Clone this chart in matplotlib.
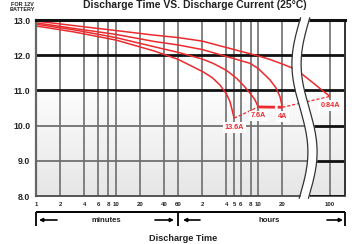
import numpy as np
import matplotlib
matplotlib.use("Agg")
import matplotlib.pyplot as plt
import matplotlib.font_manager as fm
from matplotlib.colors import LinearSegmentedColormap

# ---------------- data (x in minutes, y in volts) ----------------
currents = ["0.84A", "4A", "7.6A", "13.6A"]

t_084 = [1, 3, 10, 30, 60, 120, 300, 600, 840, 1200, 1800, 2280, 3000, 3900, 4740, 6000]
v_084 = [12.97, 12.84, 12.70, 12.57, 12.50, 12.40, 12.16, 11.98, 11.88, 11.75, 11.59, 11.47, 11.33, 11.17, 11.01, 10.83]

t_4 = [1, 3, 10, 30, 60, 120, 300, 473, 600, 840, 1000, 1122, 1200]
v_4 = [12.92, 12.76, 12.59, 12.39, 12.29, 12.16, 11.90, 11.77, 11.62, 11.30, 11.07, 10.82, 10.52]

t_76 = [1, 3, 10, 30, 60, 120, 163, 240, 323, 400, 473, 540, 600]
v_76 = [12.88, 12.72, 12.50, 12.24, 12.08, 11.89, 11.77, 11.57, 11.34, 11.12, 10.92, 10.75, 10.53]

t_136 = [1, 3, 10, 30, 60, 122, 160, 200, 240, 266, 300]
v_136 = [12.83, 12.66, 12.43, 12.12, 11.88, 11.53, 11.36, 11.15, 10.90, 10.68, 10.21]

xtick_pos = [1, 2, 4, 6, 8, 10, 20, 40, 60, 120, 240, 300, 360, 480, 600, 1200, 6000]
xtick_lab = ["1", "2", "4", "6", "8", "10", "20", "40", "60",
             "2", "4", "5", "6", "8", "10", "20", "100"]
ytick_pos = [8, 9, 10, 11, 12, 13]
ytick_lab = ["8.0", "9.0", "10.0", "11.0", "12.0", "13.0"]

title = "Discharge Time VS. Discharge Current (25\u00b0C)"
xlabel = "Discharge Time"
note = "FOR 12V\nBATTERY"

# ---------------- fonts ----------------
avail = {f.name for f in fm.fontManager.ttflist}
if "Liberation Sans Narrow" in avail:
    NARROW = "Liberation Sans Narrow"
    title_fs, xl_fs, xt_fs = 9.2, 8.0, 5.0
else:
    NARROW = "Liberation Sans"
    title_fs, xl_fs, xt_fs = 7.5, 6.6, 4.3
plt.rcParams["font.family"] = ["Liberation Sans", "DejaVu Sans"]

RED = "#ec2a2e"

# ---------------- broken log scale ----------------
U1, U2, SH = 3.25, 3.55, 0.103
K = (U2 - U1 - SH) / (U2 - U1)


def fwd(x):
    x = np.asarray(x, dtype=float)
    u = np.log10(np.clip(x, 1e-9, None))
    return np.where(u <= U1, u, np.where(u <= U2, U1 + (u - U1) * K, u - SH))


def inv(d):
    d = np.asarray(d, dtype=float)
    lim = U1 + (U2 - U1) * K
    u = np.where(d <= U1, d, np.where(d <= lim, U1 + (d - U1) / K, d + SH))
    return 10 ** u


fig = plt.figure(figsize=(3.52, 2.44), dpi=100)
ax = fig.add_axes([36 / 352, 48 / 244, 308.5 / 352, 176 / 244])
ax.set_xscale("function", functions=(fwd, inv))
ax.set_xlim(1, float(inv(3.856)))
ax.set_ylim(8, 13)

# background gradient (white at top, light grey at bottom)
grad = np.linspace(0, 1, 256).reshape(-1, 1)
grad = np.clip((grad - 0.35) / 0.65, 0, 1)
cmap = LinearSegmentedColormap.from_list("bg", ["#ffffff", "#e6e6e6"])
ax.imshow(grad, extent=[0, 1, 0, 1], origin="upper", transform=ax.transAxes,
          aspect="auto", cmap=cmap, vmin=0, vmax=1, zorder=0, interpolation="bilinear")

# ticks
ax.set_xticks(xtick_pos)
ax.set_xticklabels(xtick_lab, fontsize=xt_fs, fontweight="bold", family=NARROW, color="#222")
ax.xaxis.set_minor_locator(matplotlib.ticker.NullLocator())
ax.set_yticks(ytick_pos)
ax.set_yticklabels(ytick_lab, fontsize=6.3, fontweight="bold", color="#222")
ax.tick_params(axis="both", length=0)
ax.tick_params(axis="x", pad=4)
ax.tick_params(axis="y", pad=4)
ax.set_axisbelow(True)
ax.grid(axis="x", color="#6e6e6e", lw=1.2, zorder=0.5)

brk_frac = (310 - 36) / 308.5
for yv in [12, 11]:
    ax.axhline(yv, color="#111111", lw=2.0, zorder=1)
for yv in [10, 9]:
    ax.axhline(yv, xmax=brk_frac, color="#707070", lw=1.3, zorder=1)
    ax.axhline(yv, xmin=brk_frac, color="#111111", lw=2.0, zorder=1)
ax.axhline(8, xmin=brk_frac, color="#111111", lw=2.0, zorder=2.6)

ax.spines["top"].set_color("#111111")
ax.spines["top"].set_linewidth(2.2)
ax.spines["bottom"].set_color("#555555")
ax.spines["bottom"].set_linewidth(1.4)
ax.spines["left"].set_color("#666666")
ax.spines["left"].set_linewidth(1.6)
ax.spines["right"].set_color("#333333")
ax.spines["right"].set_linewidth(1.4)

# curves
series = [(t_084, v_084), (t_4, v_4), (t_76, v_76), (t_136, v_136)]
for t, v in series:
    ax.plot(t, v, color=RED, lw=1.1, zorder=2, solid_capstyle="butt")

# end-point connections
ax.plot([t_136[-1], t_76[-1]], [v_136[-1], v_76[-1]], color=RED, lw=0.9,
        ls=(0, (2.5, 1.5)), zorder=2)
ax.plot([t_76[-1], t_4[-1]], [v_76[-1], v_4[-1]], color=RED, lw=2.0,
        ls=(0, (6, 1, 2, 1)), zorder=2)
ax.plot([t_4[-1], t_084[-1]], [v_4[-1], v_084[-1]], color=RED, lw=0.9,
        ls=(0, (2.5, 1.5)), zorder=2)

# break (decoration)
yy = np.linspace(-0.012, 1.012, 200)
tt = 1 - yy
cpx = 304.5 - 8 * np.sin(2 * np.pi * tt)
xl = (cpx - 4.6 - 36) / 308.5
xr = (cpx + 4.6 - 36) / 308.5
ax.fill_betweenx(yy, xl, xr, transform=ax.transAxes, color="white", zorder=3,
                 clip_on=False, lw=0)
ax.plot(xl, yy, transform=ax.transAxes, color="#333333", lw=0.9, zorder=3.1, clip_on=False)
ax.plot(xr, yy, transform=ax.transAxes, color="#333333", lw=0.9, zorder=3.1, clip_on=False)

# current labels
for name, (t, v) in zip(currents, series):
    ax.annotate(name, xy=(t[-1], v[-1]), xytext=(0, -6.5), textcoords="offset points",
                ha="center", va="center", fontsize=5.2, fontweight="bold",
                family=NARROW, color=RED, zorder=4,
                bbox=dict(boxstyle="square,pad=0.25", fc="white", ec="none"))

# minutes / hours bracket
tr = ax.transAxes
yb_top = (196 - 212.3) / 176
yb_bot = (196 - 226) / 176
ya = (196 - 220) / 176
mid = (177.7 - 36) / 308.5
for xf in [0.0, mid, 1.0]:
    ax.plot([xf, xf], [yb_top, yb_bot], transform=tr, color="black", lw=1.3,
            clip_on=False, solid_capstyle="butt")
ax.plot([0, 1], [yb_top, yb_top], transform=tr, color="black", lw=1.4,
        clip_on=False, solid_capstyle="butt")


def px2f(p):
    return (p - 36) / 308.5


arrow_kw = dict(arrowstyle="-|>", lw=1.2, color="black", mutation_scale=5,
                shrinkA=0, shrinkB=0)
for x0, x1 in [(57, 39), (155, 174), (200, 183), (327, 343)]:
    ax.annotate("", xy=(px2f(x1), ya), xytext=(px2f(x0), ya), xycoords=tr,
                textcoords=tr, arrowprops=arrow_kw, annotation_clip=False)
ax.text(px2f(106), ya, "minutes", transform=tr, ha="center", va="center",
        fontsize=5.6, fontweight="bold", family=NARROW, color="#222")
ax.text(px2f(269), ya, "hours", transform=tr, ha="center", va="center",
        fontsize=5.6, fontweight="bold", family=NARROW, color="#222")

# texts
fig.text(195 / 352, 1 - 7.5 / 244, title, ha="center", va="baseline",
         fontsize=title_fs, fontweight="bold", family=NARROW, color="#222")
fig.text(183 / 352, 1 - 241 / 244, xlabel, ha="center", va="baseline",
         fontsize=xl_fs, fontweight="bold", family=NARROW, color="#222")
fig.text(22 / 352, 1 - 7 / 244, note, ha="center", va="center", fontsize=4.0,
         fontweight="bold", color="#222", linespacing=1.2)

fig.savefig("out.png", dpi=100)
